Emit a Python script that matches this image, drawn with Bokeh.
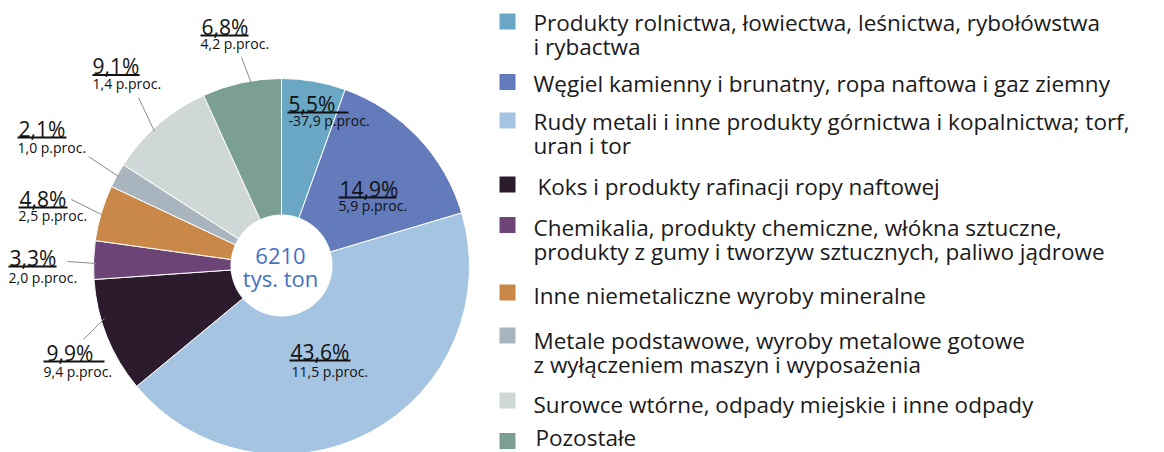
import numpy as np
from bokeh.plotting import figure
from bokeh.models import ColumnDataSource, Range1d
from bokeh.core.properties import value
from bokeh.embed import file_html
from bokeh.resources import INLINE

# ---------------- data ----------------
categories = [
    "Produkty rolnictwa, łowiectwa, leśnictwa, rybołówstwa\ni rybactwa",
    "Węgiel kamienny i brunatny, ropa naftowa i gaz ziemny",
    "Rudy metali  i inne produkty górnictwa i kopalnictwa; torf,\nuran i tor",
    "Koks i produkty rafinacji ropy naftowej",
    "Chemikalia, produkty chemiczne, włókna sztuczne,\nprodukty z gumy i tworzyw sztucznych, paliwo jądrowe",
    "Inne niemetaliczne wyroby mineralne",
    "Metale podstawowe, wyroby metalowe gotowe\nz wyłączeniem maszyn i wyposażenia",
    "Surowce wtórne, odpady miejskie i inne odpady",
    "Pozostałe",
]
shares = [5.5, 14.9, 43.6, 9.9, 3.3, 4.8, 2.1, 9.1, 6.8]
share_labels = ["5,5%", "14,9%", "43,6%", "9,9%", "3,3%", "4,8%", "2,1%", "9,1%", "6,8%"]
change_labels = ["-37,9 p.proc.", "5,9 p.proc.", "11,5  p.proc.", "9,4 p.proc.", "2,0 p.proc.",
                 "2,5 p.proc.", "1,0 p.proc.", "1,4 p.proc.", "4,2 p.proc."]
colors = ["#69A7C4", "#637BBB", "#A4C4E1", "#2C1A2D", "#6C4476",
          "#C98848", "#A8B4BE", "#CFD8D6", "#7B9E95"]
total_text = ["6210", "tys. ton"]

# ---------------- layout (screen pixels of the reference) ----------------
W, H = 1164, 452
FONT = "Open Sans"
K = 0.29  # empirical baseline correction (fraction of font size)

def X(sx): return sx
def Y(sy): return H - sy
def TY(sy, fs): return H - sy + K * fs

pie_cx, pie_cy, pie_r, hole_r = 281, 266, 188, 51

lab_x = [288, 339, 290, 46, 9, 19, 18, 92, 201]
lab_y = [110, 195, 358, 359, 264, 205, 135, 72, 33]
ul_x0 = [287, 338, 289, 43, 8, 18, 17, 92, 200]
ul_x1 = [348, 396, 350, 104, 56, 67, 66, 139, 248]
ul_y = [112, 197, 360, 361, 266, 207, 137, 74.5, 35]
sub_x = [288, 338, 291, 43, 8, 18, 17, 92, 200]
sub_y = [124, 209, 375, 375, 281, 219, 151, 87, 47]

lead = {3: (83, 339, 104, 318), 4: (67, 261, 96, 263), 5: (71, 199, 101, 214),
        6: (88, 156, 118, 176), 7: (138, 97, 154, 131), 8: (241, 57, 251, 83)}

leg_sq_y = [21, 81.5, 120, 184, 224.5, 292, 335, 400, 440.5]
leg_txt_x = [533, 533, 533, 537, 533, 533, 533, 533, 535]
leg_txt_y = [28.5, 90, 127.5, 192.5, 233.5, 301.5, 346.5, 410.5, 443.5]
LINE_H = 24

FS_BIG, FS_SUB, FS_LEG, FS_CEN = 21, 14, 22.5, 22

# ---------------- figure ----------------
p = figure(width=W, height=H, output_backend="svg", toolbar_location=None,
           x_range=Range1d(0, W), y_range=Range1d(0, H),
           x_axis_location=None, y_axis_location=None, min_border=0)
p.grid.visible = False
p.outline_line_color = None
p.background_fill_color = "white"
p.border_fill_color = "white"

frac = np.array(shares) / np.sum(shares)
cum = np.concatenate([[0.0], np.cumsum(frac)])
start = np.pi / 2 - cum[:-1] * 2 * np.pi
end = np.pi / 2 - cum[1:] * 2 * np.pi

src = ColumnDataSource(dict(start=start, end=end, color=colors))
p.wedge(x=X(pie_cx), y=Y(pie_cy), radius=pie_r, start_angle="start", end_angle="end",
        direction="clock", fill_color="color", line_color="white", line_width=1, source=src)
p.circle(x=[X(pie_cx)], y=[Y(pie_cy) + 1], radius=hole_r, fill_color="white", line_color=None)

p.text(x=[X(280), X(280)], y=[TY(262, FS_CEN), TY(284, FS_CEN)], text=total_text,
       text_font=value(FONT), text_font_size=value(f"{FS_CEN}px"), text_color="#4472C4",
       text_align="center", text_baseline="alphabetic")

lx0 = [X(lead[k][0]) for k in lead]; ly0 = [Y(lead[k][1]) for k in lead]
lx1 = [X(lead[k][2]) for k in lead]; ly1 = [Y(lead[k][3]) for k in lead]
p.segment(lx0, ly0, lx1, ly1, line_color="#8C8C8C", line_width=1)

p.text(x=[X(v) for v in lab_x], y=[TY(v, FS_BIG) for v in lab_y], text=share_labels,
       text_font=value(FONT), text_font_size=value(f"{FS_BIG}px"), text_color="#111111",
       text_align="left", text_baseline="alphabetic")
p.segment([X(v) for v in ul_x0], [Y(v) for v in ul_y], [X(v) for v in ul_x1], [Y(v) for v in ul_y],
          line_color="#111111", line_width=2)
p.text(x=[X(v) for v in sub_x], y=[TY(v, FS_SUB) for v in sub_y], text=change_labels,
       text_font=value(FONT), text_font_size=value(f"{FS_SUB}px"), text_color="#111111",
       text_align="left", text_baseline="alphabetic")

p.rect(x=[X(507)] * len(colors), y=[Y(v) for v in leg_sq_y], width=16, height=16,
       fill_color=colors, line_color=None)
tx, ty, tt = [], [], []
for i, cat in enumerate(categories):
    for j, line in enumerate(cat.split("\n")):
        tx.append(X(leg_txt_x[i])); ty.append(TY(leg_txt_y[i] + j * LINE_H, FS_LEG)); tt.append(line)
p.text(x=tx, y=ty, text=tt, text_font=value(FONT), text_font_size=value(f"{FS_LEG}px"),
       text_color="#1A1A1A", text_align="left", text_baseline="alphabetic")

open("out.html", "w").write(file_html(p, INLINE))
